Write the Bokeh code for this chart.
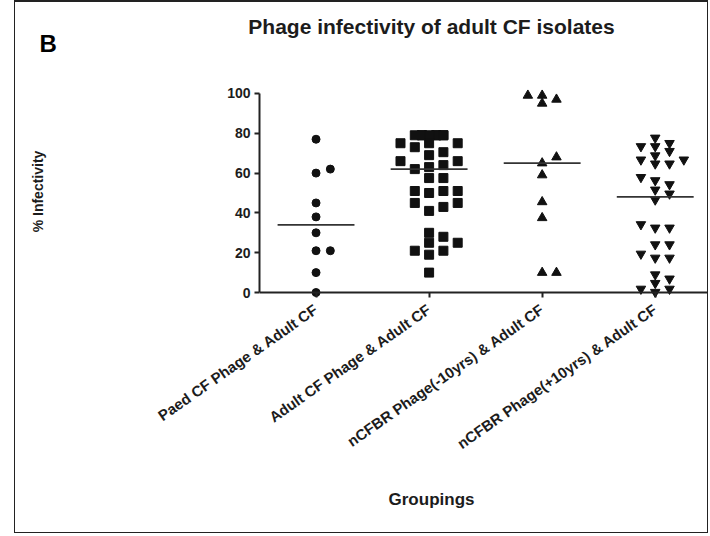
import numpy as np
from bokeh.plotting import figure
from bokeh.models import Range1d, FixedTicker, Span, Label
from bokeh.embed import file_html
from bokeh.resources import INLINE

# ---- data -------------------------------------------------------------
groups = [
    "Paed CF Phage & Adult CF",
    "Adult CF Phage & Adult CF",
    "nCFBR Phage(-10yrs) & Adult CF",
    "nCFBR Phage(+10yrs) & Adult CF",
]

paed_cf = [77, 62, 60, 45, 38, 30, 21, 21, 10, 0]

adult_cf = [79, 79, 79, 79, 79, 79, 79, 79,
            75, 75, 75, 73, 70.5, 69, 66, 66, 64, 63, 62,
            57.5, 57.5, 51, 51, 51, 50, 45, 45, 43, 41,
            30, 28, 25, 25, 21, 21, 19, 10]

ncfbr_under10 = [99, 99, 97, 95, 68, 65, 59, 45.5, 37.5, 10, 10]

ncfbr_over10 = [77.7, 75, 73.4, 73.4, 71, 68.8, 66.7, 66.7, 64.7, 64.7,
                57.9, 56.3, 54.3, 51.6, 49.6, 46.6, 34.2, 32.5, 32.5,
                24.1, 24.1, 19.4, 17.4, 17.4, 9, 6.9, 4.7, 1.8, 1.8, 0.2]

y_ticks = [0, 20, 40, 60, 80, 100]

series = [paed_cf, adult_cf, ncfbr_under10, ncfbr_over10]
markers = ["circle", "square", "triangle", "inverted_triangle"]
sizes = [8, 9, 9.5, 9.5]
clearance = [7.5, 9, 7.5, 7.5]      # px two markers need before sitting side by side

# ---- layout -----------------------------------------------------------
W, H = 694, 533
X0, X1 = 0.5, 4.48
Y0, Y1 = -2.5, 104
FL, FR, FT, FB = 244, 694, 83, 295          # frame edges in canvas px
px_x = (FR - FL) / (X1 - X0)
px_y = (FB - FT) / (Y1 - Y0)


def spread(vals, box, slot_px=14.3):
    """Column-scatter offsets: side-by-side placement of overlapping points."""
    cands = [0, 1, -1, 2, -2]
    fallback = [0.5, -0.5, 0, 1, -1]
    placed = []
    offs = [0.0] * len(vals)
    for i in sorted(range(len(vals)), key=lambda k: vals[k]):
        v = vals[i]

        def hits(c, exact=False):
            n = 0
            for pv, pc in placed:
                dy = abs(pv - v) * px_y
                dx = abs(pc - c) * slot_px
                if dy < box and (pc == c if exact else dx < box):
                    n += 1
            return n

        choice = None
        for c in cands:
            if hits(c) == 0:
                choice = c
                break
        if choice is None:
            choice = min(fallback, key=lambda c: hits(c, exact=True))
        placed.append((v, choice))
        offs[i] = choice * slot_px / px_x
    return offs


FONT = "Liberation Sans"
INK = "#1c1c1c"

p = figure(width=W, height=H, x_range=Range1d(X0, X1), y_range=Range1d(Y0, Y1),
           output_backend="svg", toolbar_location=None,
           min_border_left=FL, min_border_right=W - FR,
           min_border_top=FT, min_border_bottom=H - FB,
           styles={"margin-left": "14px", "border": "1px solid #222",
                   "border-top-width": "2px"})
p.outline_line_color = None
p.xgrid.visible = False
p.ygrid.visible = False
p.background_fill_color = "white"
p.border_fill_color = "white"

# ---- points and medians ----------------------------------------------
for gi, (vals, mk, sz, cl) in enumerate(zip(series, markers, sizes, clearance)):
    xc = gi + 1
    offs = spread(vals, box=cl)
    xs = [xc + o for o in offs]
    p.scatter(xs, vals, marker=mk, size=sz, fill_color="#111", line_color="#111")
    med = float(np.median(vals))
    p.segment(x0=[xc - 0.34], x1=[xc + 0.34], y0=[med], y1=[med],
              line_color="#333", line_width=1.8)

# ---- axes -------------------------------------------------------------
p.add_layout(Span(location=0, dimension="width", line_color="#222", line_width=2))

xa = p.xaxis[0]
xa.ticker = FixedTicker(ticks=[1, 2, 3, 4])
xa.major_label_overrides = {i + 1: g for i, g in enumerate(groups)}
xa.axis_line_color = None
xa.major_tick_in = 5
xa.major_tick_out = 0
xa.major_tick_line_width = 2
xa.major_tick_line_color = "#222"
xa.minor_tick_line_color = None
xa.major_label_orientation = float(np.deg2rad(35))
xa.major_label_standoff = 10
xa.major_label_text_font = FONT
xa.major_label_text_font_style = "bold"
xa.major_label_text_font_size = "15px"
xa.major_label_text_color = INK

ya = p.yaxis[0]
ya.ticker = FixedTicker(ticks=y_ticks)
ya.bounds = (0, 100)
ya.axis_line_width = 2
ya.axis_line_color = "#222"
ya.major_tick_out = 5
ya.major_tick_in = 0
ya.major_tick_line_width = 2
ya.major_tick_line_color = "#222"
ya.minor_tick_line_color = None
ya.major_label_standoff = 4
ya.major_label_text_font = FONT
ya.major_label_text_font_style = "bold"
ya.major_label_text_font_size = "14px"
ya.major_label_text_color = INK
ya.axis_label = "% Infectivity"
ya.axis_label_standoff = 178
ya.axis_label_text_font = FONT
ya.axis_label_text_font_style = "bold"
ya.axis_label_text_font_size = "14px"
ya.axis_label_text_color = INK

# ---- free texts, placed in canvas pixels from side panels -------------
p.add_layout(Label(x=415, y=22, x_units="canvas", y_units="canvas",
                   text="Phage infectivity of adult CF isolates",
                   text_align="center", text_baseline="middle",
                   text_font=FONT, text_font_style="bold",
                   text_font_size="21px", text_color=INK), "above")
p.add_layout(Label(x=23, y=39, x_units="canvas", y_units="canvas",
                   text="B", text_align="left", text_baseline="middle",
                   text_font=FONT, text_font_style="bold",
                   text_font_size="24px", text_color="#000"), "above")
p.add_layout(Label(x=415, y=495, x_units="canvas", y_units="canvas",
                   text="Groupings", text_align="center",
                   text_baseline="middle", text_font=FONT,
                   text_font_style="bold", text_font_size="17px",
                   text_color=INK), "below")

open("out.html", "w").write(file_html(p, INLINE))
